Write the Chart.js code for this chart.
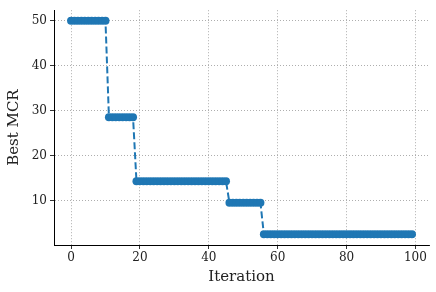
<!DOCTYPE html>
<html>
<head>
<meta charset="utf-8">
<script src="https://cdn.jsdelivr.net/npm/chart.js@4"></script>
<style>
  html, body { margin: 0; padding: 0; background: #fff; }
  #wrap { width: 436px; height: 292px; }
</style>
</head>
<body>
<div id="wrap"><canvas id="chart" width="436" height="292"></canvas></div>
<script>
// iteration index and best MCR found so far
var iterations = [];
for (var i = 0; i < 100; i++) iterations.push(i);

var bestMcr = [
    50, 50, 50, 50, 50, 50, 50, 50, 50, 50, 50,
    28.57, 28.57, 28.57, 28.57, 28.57, 28.57, 28.57, 28.57,
    14.29, 14.29, 14.29, 14.29, 14.29, 14.29, 14.29, 14.29, 14.29, 14.29,
    14.29, 14.29, 14.29, 14.29, 14.29, 14.29, 14.29, 14.29, 14.29, 14.29,
    14.29, 14.29, 14.29, 14.29, 14.29, 14.29, 14.29,
    9.52, 9.52, 9.52, 9.52, 9.52, 9.52, 9.52, 9.52, 9.52, 9.52,
    2.5, 2.5, 2.5, 2.5, 2.5, 2.5, 2.5, 2.5, 2.5, 2.5,
    2.5, 2.5, 2.5, 2.5, 2.5, 2.5, 2.5, 2.5, 2.5, 2.5,
    2.5, 2.5, 2.5, 2.5, 2.5, 2.5, 2.5, 2.5, 2.5, 2.5,
    2.5, 2.5, 2.5, 2.5, 2.5, 2.5, 2.5, 2.5, 2.5, 2.5,
    2.5, 2.5, 2.5, 2.5
];

var xTicks = [0, 20, 40, 60, 80, 100];
var yTicks = [10, 20, 30, 40, 50];

var serif = "'DejaVu Serif', serif";
var blue = '#1f77b4';

var ctx = document.getElementById('chart').getContext('2d');
new Chart(ctx, {
    type: 'line',
    data: {
        datasets: [{
            label: 'Best MCR',
            data: iterations.map(function (x, i) { return { x: x, y: bestMcr[i] }; }),
            borderColor: blue,
            borderWidth: 2,
            borderDash: [7, 3],
            pointRadius: 4,
            pointBackgroundColor: blue,
            pointBorderWidth: 0,
            fill: false,
            tension: 0
        }]
    },
    options: {
        responsive: false,
        animation: false,
        layout: { padding: { top: 6, right: 7, left: 5, bottom: 6 } },
        plugins: {
            legend: { display: false },
            tooltip: { enabled: false }
        },
        scales: {
            x: {
                type: 'linear',
                min: -4.95,
                max: 103.95,
                afterBuildTicks: function (axis) {
                    axis.ticks = xTicks.map(function (v) { return { value: v }; });
                },
                afterFit: function (axis) { axis.height = 41; },
                border: { display: true, color: '#000', width: 1, dash: [1, 2] },
                grid: {
                    color: '#999',
                    lineWidth: 0.8,
                    tickLength: 4,
                    tickColor: '#000',
                    tickBorderDash: []
                },
                ticks: {
                    color: '#222',
                    font: { family: serif, size: 12 },
                    padding: 2,
                    maxRotation: 0
                },
                title: {
                    display: true,
                    text: 'Iteration',
                    color: '#222',
                    font: { family: serif, size: 15 },
                    padding: { top: 2, bottom: 0 }
                }
            },
            y: {
                type: 'linear',
                min: 0.125,
                max: 52.375,
                afterBuildTicks: function (axis) {
                    axis.ticks = yTicks.map(function (v) { return { value: v }; });
                },
                afterFit: function (axis) { axis.width = 49; },
                border: { display: true, color: '#000', width: 1, dash: [1, 2] },
                grid: {
                    color: '#999',
                    lineWidth: 0.8,
                    tickLength: 4,
                    tickColor: '#000',
                    tickBorderDash: []
                },
                ticks: {
                    color: '#222',
                    font: { family: serif, size: 12 },
                    padding: 3
                },
                title: {
                    display: true,
                    text: 'Best MCR',
                    color: '#222',
                    font: { family: serif, size: 15 },
                    padding: { top: 0, bottom: 4 }
                }
            }
        }
    }
});
</script>
</body>
</html>
